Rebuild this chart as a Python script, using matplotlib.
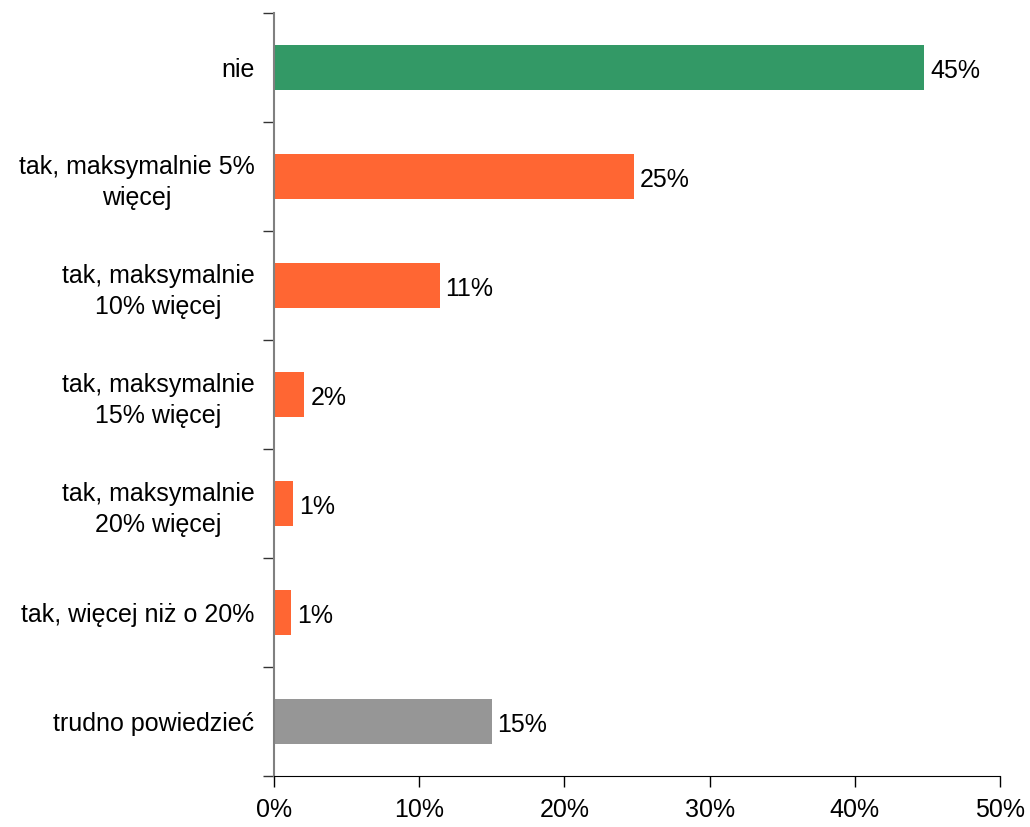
import matplotlib
matplotlib.use("Agg")
import matplotlib.pyplot as plt
import numpy as np

plt.rcParams['font.family'] = ['Liberation Sans', 'DejaVu Sans']

# data
categories = ["nie", "tak, maksymalnie 5%\nwięcej", "tak, maksymalnie\n10% więcej",
              "tak, maksymalnie\n15% więcej", "tak, maksymalnie\n20% więcej",
              "tak, więcej niż o 20%", "trudno powiedzieć"]
values = [44.8, 24.8, 11.4, 2.1, 1.3, 1.2, 15.0]
labels = ["45%", "25%", "11%", "2%", "1%", "1%", "15%"]
colors = ["#339966", "#FF6633", "#FF6633", "#FF6633", "#FF6633", "#FF6633", "#969696"]
xticks = [0, 10, 20, 30, 40, 50]

fig = plt.figure(figsize=(10.3, 8.27), dpi=100)
ax = fig.add_axes([274/1030, 51/827, 726/1030, 763/827])

y = np.arange(len(categories))
ax.barh(y, values, height=0.42, color=colors)
for yi, v, lab in zip(y, values, labels):
    ax.text(v + 0.4, yi + 0.03, lab, va='center', ha='left', fontsize=18)

ax.set_ylim(len(categories) - 0.5, -0.5)
ax.set_xlim(0, 50)
ax.set_xticks(xticks)
ax.set_xticklabels([f"{t}%" for t in xticks], fontsize=18)
ax.tick_params(axis='x', direction='out', length=8, width=1, pad=8)

# y ticks at the category borders, labels in the middle
ax.set_yticks(np.arange(-0.5, len(categories)), minor=False)
ax.set_yticklabels([])
ax.tick_params(axis='y', which='major', direction='out', length=8, width=1, color='#333333')
ax.set_yticks(y, minor=True)
ax.set_yticklabels(categories, minor=True, fontsize=18, multialignment='center', linespacing=1.35)
ax.tick_params(axis='y', which='minor', length=0, pad=14)

for s in ['top', 'right']:
    ax.spines[s].set_visible(False)
ax.spines['left'].set_color('#808080')
ax.spines['left'].set_linewidth(1.5)
ax.spines['bottom'].set_color('black')

fig.savefig("out.png", dpi=100)
